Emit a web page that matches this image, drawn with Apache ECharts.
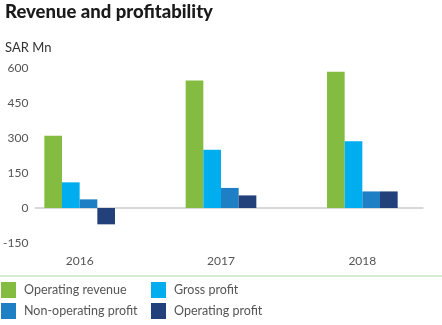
<!DOCTYPE html>
<html>
<head>
<meta charset="utf-8">
<script src="https://cdn.jsdelivr.net/npm/echarts@6/dist/echarts.min.js"></script>
<style>html,body{margin:0;padding:0;background:#fff;}#c{width:442px;height:325px;}</style>
</head>
<body>
<div id="c"></div>
<script>
var categories = ['2016', '2017', '2018'];
var operatingRevenue = [310, 546, 584];
var grossProfit = [110, 250, 286];
var nonOperatingProfit = [37, 86, 71];
var operatingProfit = [-70, 54, 71];
var yTicks = { min: -150, max: 600, interval: 150 };

var FONT = 'Lato, "Noto Sans", sans-serif';
var chart = echarts.init(document.getElementById('c'));
function bar(name, data, color) {
  return {
    name: name, type: 'bar', data: data, xAxisIndex: 1, yAxisIndex: 1,
    barWidth: '12.5%', barGap: '0%',
    itemStyle: { color: color }
  };
}
var legendText = { fontFamily: FONT, fontSize: 12.5, color: '#555', padding: [0, 0, 0, 3] };
chart.setOption({
  animation: false,
  title: [{
    text: 'Revenue and profitability', left: 5, top: 3, padding: 0,
    textStyle: { fontFamily: FONT, fontSize: 18.5, fontWeight: 900, color: '#1a1a1a' }
  }, {
    text: 'SAR Mn', left: 5, top: 41, padding: 0,
    textStyle: { fontFamily: FONT, fontSize: 13, fontWeight: 'normal', color: '#333' }
  }],
  grid: [
    { left: 35, right: 19, top: 68, bottom: 82 },
    { left: 9, right: 9, top: 68, bottom: 82 }
  ],
  xAxis: [{
    gridIndex: 0, type: 'category', data: categories,
    axisLine: { show: true, onZero: true, lineStyle: { color: '#cccccc', width: 1.5 } },
    axisTick: { show: false }, axisLabel: { show: false }, z: 0
  }, {
    gridIndex: 1, type: 'category', data: categories,
    axisLine: { show: false, onZero: false }, axisTick: { show: false },
    axisLabel: { margin: 12, fontFamily: FONT, fontSize: 12, color: '#555' }
  }],
  yAxis: [{
    gridIndex: 0, type: 'value', min: yTicks.min, max: yTicks.max, interval: yTicks.interval,
    axisLine: { show: false }, axisTick: { show: false }, splitLine: { show: false },
    axisLabel: { margin: 7, fontFamily: FONT, fontSize: 12, color: '#555' }
  }, {
    gridIndex: 1, type: 'value', min: yTicks.min, max: yTicks.max, interval: yTicks.interval,
    show: false, splitLine: { show: false }
  }],
  legend: [{
    data: ['Operating revenue', 'Non-operating profit'],
    orient: 'vertical', left: 1, top: 282, height: 43, padding: 0,
    itemWidth: 15, itemHeight: 16, itemGap: 5,
    icon: 'rect', textStyle: legendText
  }, {
    data: ['Gross profit', 'Operating profit'],
    orient: 'vertical', left: 151, top: 282, height: 43, padding: 0,
    itemWidth: 15, itemHeight: 16, itemGap: 5,
    icon: 'rect', textStyle: legendText
  }],
  graphic: [{
    type: 'line', shape: { x1: 0, y1: 276, x2: 442, y2: 276 },
    style: { stroke: '#a9d9a4', lineWidth: 1 }
  }],
  series: [
    bar('Operating revenue', operatingRevenue, '#84bc41'),
    bar('Gross profit', grossProfit, '#00aeef'),
    bar('Non-operating profit', nonOperatingProfit, '#1f7fc4'),
    bar('Operating profit', operatingProfit, '#22407a')
  ]
});
</script>
</body>
</html>
